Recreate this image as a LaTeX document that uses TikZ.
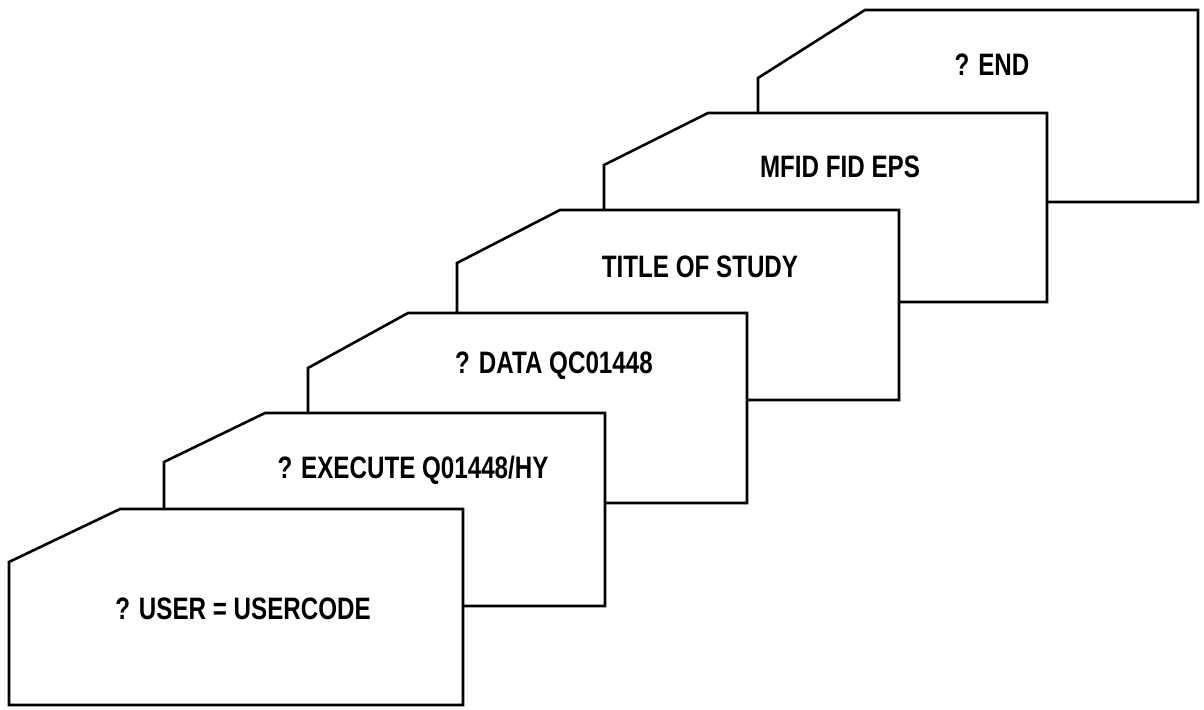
\documentclass[tikz,border=0pt]{standalone}
\usepackage{fontspec}
\newfontfamily\cardfont[FakeStretch=0.78]{Liberation Sans}
\begin{document}
\begin{tikzpicture}[x=0.5pt,y=-0.5pt,
  card/.style={draw=black,fill=white,line width=1.3pt,line join=miter},
  cardtext/.style={font=\cardfont\bfseries\fontsize{15.5}{17}\selectfont,inner sep=0pt,anchor=base}]
\useasboundingbox (0,0) rectangle (1204,710);
% back to front
\draw[card] (758,78) -- (865,10) -- (1198,10) -- (1198,202) -- (758,202) -- cycle;
\node[cardtext] (t6) at (992,76) {? END};
\draw[card] (604,165) -- (708,113) -- (1047,113) -- (1047,302) -- (604,302) -- cycle;
\node[cardtext] (t5) at (840,178) {MFID FID EPS};
\draw[card] (457,263) -- (560,210) -- (899,210) -- (899,400) -- (457,400) -- cycle;
\node[cardtext] (t4) at (700,278) {TITLE OF STUDY};
\draw[card] (308,368) -- (408,313) -- (747,313) -- (747,503) -- (308,503) -- cycle;
\node[cardtext] (t3) at (554,374) {? DATA QC01448};
\draw[card] (164,462) -- (265,413) -- (605,413) -- (605,606) -- (164,606) -- cycle;
\node[cardtext] (t2) at (413,479) {? EXECUTE Q01448/HY};
\draw[card] (9,562) -- (120,509) -- (463,509) -- (463,705) -- (9,705) -- cycle;
\node[cardtext] (t1) at (243,619) {? USER = USERCODE};
\end{tikzpicture}
\end{document}
